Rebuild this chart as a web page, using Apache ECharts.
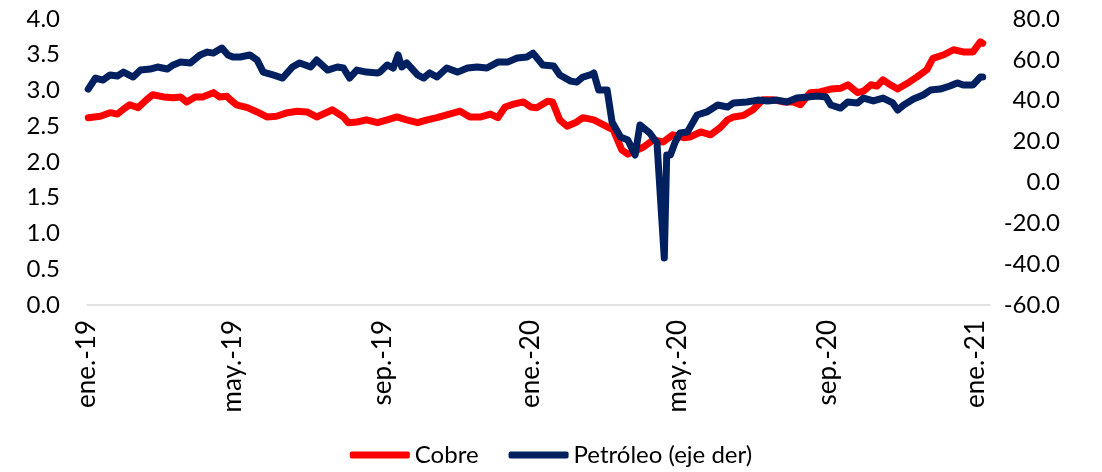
<!DOCTYPE html>
<html>
<head>
<meta charset="utf-8">
<script src="https://cdn.jsdelivr.net/npm/echarts@6/dist/echarts.min.js"></script>
<style>
  html, body { margin: 0; padding: 0; background: #fff; }
  #chart { width: 1102px; height: 472px; }
</style>
</head>
<body>
<div id="chart"></div>
<script>
// dias desde el 01-01-2019
const cobreDias = [1, 11, 19, 25, 30, 35, 42, 49, 54, 63, 71, 77, 82, 89, 95, 104, 109, 115, 118, 123,
  132, 140, 148, 156, 165, 173, 181, 189, 198, 202, 211, 215, 222, 230, 239, 247, 255, 263, 272, 280,
  288, 296, 307, 315, 324, 332, 338, 344, 351, 359, 365, 370, 379, 383, 389, 395, 403, 408, 417, 425,
  433, 440, 445, 453, 458, 466, 474, 482, 491, 496, 505, 513, 521, 527, 532, 540, 548, 556, 565, 573,
  581, 587, 595, 603, 612, 620, 626, 634, 639, 645, 650, 655, 661, 667, 675, 683, 691, 696, 705, 713,
  721, 729, 735, 737]
const cobreValores = [2.62, 2.64, 2.69, 2.67, 2.74, 2.80, 2.76, 2.87, 2.94, 2.91, 2.90, 2.91, 2.84, 2.91, 2.91, 2.97, 2.91, 2.92, 2.87, 2.80,
  2.76, 2.70, 2.63, 2.64, 2.69, 2.71, 2.70, 2.63, 2.70, 2.73, 2.63, 2.55, 2.56, 2.59, 2.55, 2.59, 2.63, 2.59, 2.55, 2.59,
  2.62, 2.66, 2.71, 2.63, 2.63, 2.67, 2.62, 2.77, 2.81, 2.84, 2.77, 2.76, 2.85, 2.84, 2.59, 2.50, 2.56, 2.62, 2.59, 2.52,
  2.45, 2.17, 2.11, 2.17, 2.21, 2.31, 2.28, 2.38, 2.34, 2.35, 2.42, 2.38, 2.48, 2.59, 2.63, 2.65, 2.73, 2.87, 2.87, 2.84,
  2.84, 2.80, 2.97, 2.98, 3.02, 3.03, 3.08, 2.97, 2.99, 3.08, 3.06, 3.15, 3.08, 3.02, 3.10, 3.19, 3.29, 3.45, 3.50, 3.57,
  3.54, 3.54, 3.68, 3.66]

const petroleoDias = [1, 7, 13, 19, 25, 30, 38, 44, 52, 58, 66, 71, 77, 85, 93, 99, 104, 111, 116, 120,
  126, 134, 140, 145, 153, 161, 169, 175, 184, 189, 198, 206, 211, 216, 222, 230, 239, 241, 247, 252,
  256, 259, 263, 272, 277, 282, 288, 296, 305, 313, 321, 329, 338, 346, 354, 362, 367, 375, 384, 389,
  398, 403, 408, 414, 417, 421, 428, 432, 439, 445, 451, 455, 463, 469, 475, 477, 480, 484, 488, 494,
  502, 510, 519, 527, 532, 543, 552, 560, 568, 576, 584, 593, 601, 608, 612, 620, 626, 634, 639, 647,
  655, 663, 667, 672, 680, 688, 694, 702, 710, 716, 721, 729, 735, 737]
const petroleoValores = [45.7, 51.1, 50.1, 52.6, 52.1, 54.0, 51.6, 55.0, 55.5, 56.5, 55.5, 57.5, 58.9, 58.5, 62.4, 63.8, 63.3, 65.8, 62.4, 61.4,
  61.4, 62.4, 59.9, 54.0, 52.6, 51.1, 56.5, 58.5, 56.5, 59.9, 55.0, 56.5, 56.0, 51.1, 55.0, 54.0, 53.6, 54.0, 57.5, 56.0,
  62.4, 56.5, 58.5, 52.6, 51.1, 53.6, 51.6, 56.0, 54.0, 56.0, 56.5, 56.0, 58.9, 58.9, 60.9, 61.4, 63.3, 57.5, 57.0, 52.6,
  49.6, 49.1, 51.6, 52.6, 53.6, 45.2, 45.2, 29.6, 22.2, 20.8, 13.4, 28.1, 24.2, 19.3, -37.0, 13.4, 13.4, 19.8, 24.2, 24.7,
  33.0, 34.5, 37.9, 36.9, 38.9, 39.4, 40.3, 39.9, 40.3, 39.4, 41.3, 41.8, 42.3, 41.8, 37.9, 36.4, 39.4, 38.9, 41.3, 39.9,
  41.3, 38.9, 35.4, 37.9, 40.8, 42.8, 45.2, 45.7, 47.2, 48.7, 47.7, 47.7, 51.6, 51.6]

const etiquetasDias = [0, 120, 243, 365, 486, 609, 731]
const etiquetasTexto = ['ene.-19', 'may.-19', 'sep.-19', 'ene.-20', 'may.-20', 'sep.-20', 'ene.-21']

const fuente = 'Lato, "Open Sans", sans-serif'

const chart = echarts.init(document.getElementById('chart'))

const option = {
  animation: false,
  textStyle: { fontFamily: fuente },
  grid: { left: 87, right: 112, top: 19, bottom: 167 },
  legend: {
    bottom: 0,
    left: 'center',
    icon: 'roundRect',
    itemWidth: 60,
    itemHeight: 7,
    itemGap: 30,
    textStyle: { fontFamily: fuente, fontSize: 24, color: '#000' },
    data: ['Cobre', 'Petróleo (eje der)']
  },
  xAxis: {
    type: 'value',
    min: 0,
    max: 743,
    axisLine: { show: true, onZero: false, lineStyle: { color: '#d9d9d9', width: 1.5 } },
    axisTick: { show: false },
    splitLine: { show: false },
    axisLabel: {
      customValues: etiquetasDias,
      rotate: 90,
      margin: 15,
      fontFamily: fuente,
      fontSize: 26,
      color: '#000',
      formatter: (v) => etiquetasTexto[etiquetasDias.indexOf(v)]
    }
  },
  yAxis: [
    {
      type: 'value',
      min: 0,
      max: 4,
      interval: 0.5,
      axisLine: { show: false },
      axisTick: { show: false },
      splitLine: { show: false },
      axisLabel: {
        margin: 27,
        fontFamily: fuente,
        fontSize: 24,
        color: '#000',
        formatter: (v) => v.toFixed(1)
      }
    },
    {
      type: 'value',
      min: -60,
      max: 80,
      interval: 20,
      axisLine: { show: false },
      axisTick: { show: false },
      splitLine: { show: false },
      axisLabel: {
        margin: 70,
        align: 'right',
        fontFamily: fuente,
        fontSize: 24,
        color: '#000',
        formatter: (v) => v.toFixed(1)
      }
    }
  ],
  series: [
    {
      name: 'Cobre',
      type: 'line',
      yAxisIndex: 0,
      showSymbol: false,
      color: '#ff0000',
      lineStyle: { width: 7, cap: 'round', join: 'round' },
      data: cobreDias.map((d, i) => [d, cobreValores[i]])
    },
    {
      name: 'Petróleo (eje der)',
      type: 'line',
      yAxisIndex: 1,
      showSymbol: false,
      color: '#002060',
      lineStyle: { width: 7, cap: 'round', join: 'round' },
      data: petroleoDias.map((d, i) => [d, petroleoValores[i]])
    }
  ]
}

chart.setOption(option)
</script>
</body>
</html>
